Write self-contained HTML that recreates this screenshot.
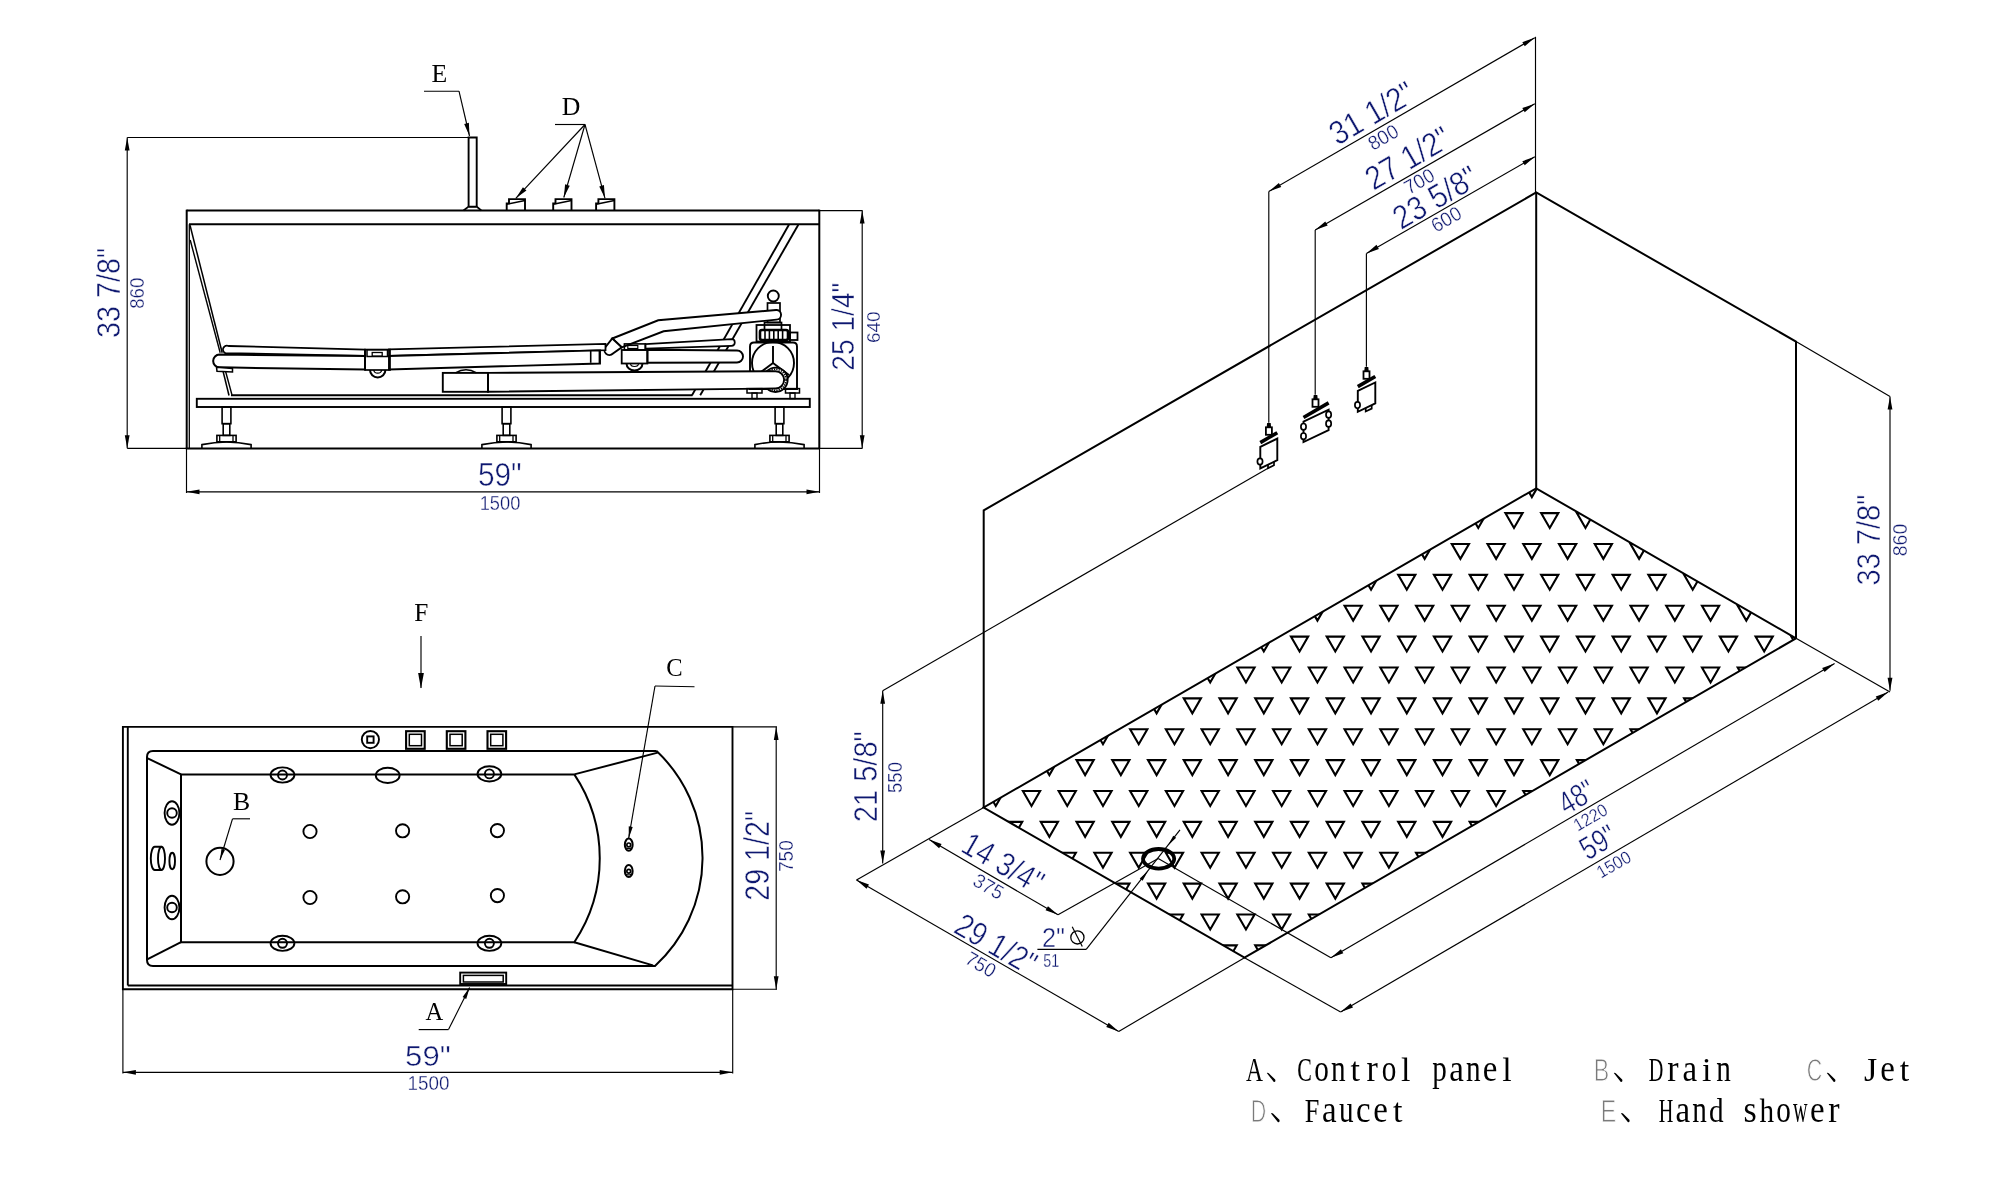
<!DOCTYPE html>
<html><head><meta charset="utf-8"><title>Bathtub drawing</title>
<style>html,body{margin:0;padding:0;background:#fff;}svg{display:block;will-change:transform;}</style>
</head><body>
<svg width="2000" height="1200" viewBox="0 0 2000 1200" stroke-linecap="butt">
<rect width="2000" height="1200" fill="#fff"/>
<line x1="127.20" y1="137.50" x2="469.50" y2="137.50" stroke="#000" stroke-width="1.15"/>
<line x1="127.20" y1="448.30" x2="186.50" y2="448.30" stroke="#000" stroke-width="1.15"/>
<line x1="127.20" y1="137.50" x2="127.20" y2="448.30" stroke="#000" stroke-width="1.15"/>
<path d="M127.20,137.50 L124.80,150.50 L129.60,150.50 Z" fill="#000"/>
<path d="M127.20,448.30 L129.60,435.30 L124.80,435.30 Z" fill="#000"/>
<text transform="translate(108.80,293.00) rotate(-90)" x="0" y="11.65" font-family="Liberation Sans" font-size="32.36" fill="#0e1870" text-anchor="middle" font-weight="normal" textLength="90.2" lengthAdjust="spacingAndGlyphs" stroke="#fff" stroke-width="0.52">33 7/8&quot;</text>
<text transform="translate(137.00,293.20) rotate(-90)" x="0" y="7.15" font-family="Liberation Sans" font-size="19.86" fill="#0e1870" text-anchor="middle" font-weight="normal" textLength="31.1" lengthAdjust="spacingAndGlyphs" stroke="#fff" stroke-width="0.32">860</text>
<path d="M468.6,206.8 L468.6,137.5 L476.7,137.5 L476.7,206.8" fill="none" stroke="#000" stroke-width="1.9" />
<path d="M463.5,210.5 L468.6,206.6 L476.7,206.6 L481.3,210.5" fill="none" stroke="#000" stroke-width="1.8" />
<line x1="468.60" y1="206.80" x2="476.70" y2="206.80" stroke="#000" stroke-width="1.6"/>
<text transform="translate(439.25,73.50) rotate(0)" x="0" y="8.50" font-family="Liberation Serif" font-size="25.76" fill="#000" text-anchor="middle" font-weight="normal">E</text>
<line x1="424.00" y1="91.20" x2="459.00" y2="91.20" stroke="#000" stroke-width="1.15"/>
<line x1="459.00" y1="91.20" x2="469.50" y2="136.00" stroke="#000" stroke-width="1.15"/>
<path d="M469.50,136.00 L468.87,122.80 L464.20,123.89 Z" fill="#000"/>
<path d="M506.7,210.5 L506.7,203.4 L509.0,203.4 L509.0,199.1 L525.0,199.1 L525.0,210.5" fill="none" stroke="#000" stroke-width="1.9" />
<line x1="506.70" y1="204.30" x2="525.00" y2="200.40" stroke="#000" stroke-width="1.5"/>
<path d="M553.2,210.5 L553.2,203.4 L555.5,203.4 L555.5,199.1 L571.5,199.1 L571.5,210.5" fill="none" stroke="#000" stroke-width="1.9" />
<line x1="553.20" y1="204.30" x2="571.50" y2="200.40" stroke="#000" stroke-width="1.5"/>
<path d="M596.1,210.5 L596.1,203.4 L598.4,203.4 L598.4,199.1 L614.4,199.1 L614.4,210.5" fill="none" stroke="#000" stroke-width="1.9" />
<line x1="596.10" y1="204.30" x2="614.40" y2="200.40" stroke="#000" stroke-width="1.5"/>
<text transform="translate(571.00,106.00) rotate(0)" x="0" y="8.50" font-family="Liberation Serif" font-size="25.76" fill="#000" text-anchor="middle" font-weight="normal">D</text>
<line x1="555.00" y1="124.50" x2="585.00" y2="124.50" stroke="#000" stroke-width="1.15"/>
<line x1="585.00" y1="124.50" x2="515.80" y2="198.30" stroke="#000" stroke-width="1.15"/>
<path d="M515.80,198.30 L526.44,190.46 L522.94,187.18 Z" fill="#000"/>
<line x1="585.00" y1="124.50" x2="563.80" y2="197.50" stroke="#000" stroke-width="1.15"/>
<path d="M563.80,197.50 L569.73,185.69 L565.12,184.35 Z" fill="#000"/>
<line x1="585.00" y1="124.50" x2="605.00" y2="198.30" stroke="#000" stroke-width="1.15"/>
<path d="M605.00,198.30 L603.92,185.12 L599.28,186.38 Z" fill="#000"/>
<line x1="186.50" y1="210.60" x2="819.50" y2="210.60" stroke="#000" stroke-width="2.0"/>
<line x1="189.00" y1="224.30" x2="819.50" y2="224.30" stroke="#000" stroke-width="2.0"/>
<line x1="186.70" y1="209.70" x2="186.70" y2="448.50" stroke="#000" stroke-width="2.0"/>
<line x1="189.30" y1="224.30" x2="189.30" y2="448.50" stroke="#000" stroke-width="1.3"/>
<line x1="819.30" y1="209.70" x2="819.30" y2="448.50" stroke="#000" stroke-width="2.0"/>
<line x1="185.80" y1="448.50" x2="820.00" y2="448.50" stroke="#000" stroke-width="2.0"/>
<line x1="190.00" y1="225.20" x2="222.20" y2="352.70" stroke="#000" stroke-width="1.5"/>
<line x1="190.20" y1="240.00" x2="220.20" y2="352.70" stroke="#000" stroke-width="1.4"/>
<line x1="222.20" y1="367.70" x2="229.00" y2="395.50" stroke="#000" stroke-width="1.5"/>
<line x1="224.60" y1="367.70" x2="232.00" y2="395.00" stroke="#000" stroke-width="1.4"/>
<line x1="788.90" y1="224.80" x2="692.00" y2="395.30" stroke="#000" stroke-width="1.9"/>
<line x1="798.30" y1="224.80" x2="700.20" y2="395.30" stroke="#000" stroke-width="1.9"/>
<line x1="231.00" y1="395.30" x2="692.50" y2="395.30" stroke="#000" stroke-width="1.9"/>
<rect x="196.80" y="398.80" width="613.00" height="8.20" rx="0" fill="none" stroke="#000" stroke-width="1.9"/>
<rect x="222.10" y="406.90" width="8.80" height="16.80" rx="0" fill="none" stroke="#000" stroke-width="1.6"/>
<rect x="223.20" y="423.70" width="6.60" height="11.70" rx="0" fill="none" stroke="#000" stroke-width="1.6"/>
<rect x="216.90" y="435.40" width="19.20" height="6.40" rx="0" fill="none" stroke="#000" stroke-width="1.6"/>
<line x1="219.70" y1="435.40" x2="219.70" y2="441.80" stroke="#000" stroke-width="1.3"/>
<line x1="233.00" y1="435.40" x2="233.00" y2="441.80" stroke="#000" stroke-width="1.3"/>
<path d="M201.9,448.2 L201.9,444.6 Q214.5,442 226.5,442 Q238.5,442 251.1,444.6 L251.1,448.2" fill="none" stroke="#000" stroke-width="1.6" />
<rect x="502.10" y="406.90" width="8.80" height="16.80" rx="0" fill="none" stroke="#000" stroke-width="1.6"/>
<rect x="503.20" y="423.70" width="6.60" height="11.70" rx="0" fill="none" stroke="#000" stroke-width="1.6"/>
<rect x="496.90" y="435.40" width="19.20" height="6.40" rx="0" fill="none" stroke="#000" stroke-width="1.6"/>
<line x1="499.70" y1="435.40" x2="499.70" y2="441.80" stroke="#000" stroke-width="1.3"/>
<line x1="513.00" y1="435.40" x2="513.00" y2="441.80" stroke="#000" stroke-width="1.3"/>
<path d="M481.9,448.2 L481.9,444.6 Q494.5,442 506.5,442 Q518.5,442 531.1,444.6 L531.1,448.2" fill="none" stroke="#000" stroke-width="1.6" />
<rect x="775.10" y="406.90" width="8.80" height="16.80" rx="0" fill="none" stroke="#000" stroke-width="1.6"/>
<rect x="776.20" y="423.70" width="6.60" height="11.70" rx="0" fill="none" stroke="#000" stroke-width="1.6"/>
<rect x="769.90" y="435.40" width="19.20" height="6.40" rx="0" fill="none" stroke="#000" stroke-width="1.6"/>
<line x1="772.70" y1="435.40" x2="772.70" y2="441.80" stroke="#000" stroke-width="1.3"/>
<line x1="786.00" y1="435.40" x2="786.00" y2="441.80" stroke="#000" stroke-width="1.3"/>
<path d="M754.9,448.2 L754.9,444.6 Q767.5,442 779.5,442 Q791.5,442 804.1,444.6 L804.1,448.2" fill="none" stroke="#000" stroke-width="1.6" />
<path d="M750,389 L750,346.5 Q750,342.5 754,342.5 L793,342.5 Q797,342.5 797,346.5 L797,389 Z" fill="#fff" stroke="#000" stroke-width="1.9" />
<circle cx="773.00" cy="363.00" r="21.00" fill="none" stroke="#000" stroke-width="1.9"/>
<line x1="773.00" y1="346.00" x2="773.00" y2="363.00" stroke="#000" stroke-width="1.9"/>
<line x1="773.00" y1="363.00" x2="757.00" y2="375.00" stroke="#000" stroke-width="1.9"/>
<line x1="773.00" y1="363.00" x2="789.00" y2="375.00" stroke="#000" stroke-width="1.9"/>
<circle cx="775.5" cy="379.8" r="12.2" fill="#fff" stroke="#000" stroke-width="1.8"/>
<circle cx="775.5" cy="379.8" r="10.6" fill="none" stroke="#000" stroke-width="1.6" stroke-dasharray="1.3 1.1"/>
<path d="M488,372.9 L775.5,371.2 A8.65,8.65 0 0 1 775.5,388.5 L488,391.8 Z" fill="#fff" stroke="#000" stroke-width="1.9" />
<path d="M455.5,372.9 Q466,366.5 476.5,372.9" fill="#fff" stroke="#000" stroke-width="1.6" />
<rect x="442.80" y="372.90" width="45.20" height="18.90" rx="0" fill="none" stroke="#000" stroke-width="1.9"/>
<rect x="747.00" y="388.60" width="15.00" height="4.40" rx="0" fill="none" stroke="#000" stroke-width="1.5"/>
<rect x="752.00" y="393.00" width="5.00" height="5.60" rx="0" fill="none" stroke="#000" stroke-width="1.4"/>
<rect x="785.50" y="388.60" width="14.00" height="4.40" rx="0" fill="none" stroke="#000" stroke-width="1.5"/>
<rect x="790.00" y="393.00" width="5.00" height="5.60" rx="0" fill="none" stroke="#000" stroke-width="1.4"/>
<rect x="756.50" y="325.00" width="33.50" height="16.50" rx="0" fill="none" stroke="#000" stroke-width="1.8"/>
<rect x="790.00" y="332.50" width="7.50" height="7.50" rx="0" fill="none" stroke="#000" stroke-width="1.8"/>
<rect x="760" y="330" width="28" height="10" fill="none" stroke="#000" stroke-width="2.6" rx="2"/>
<line x1="765.00" y1="331.00" x2="765.00" y2="339.00" stroke="#000" stroke-width="1.6"/>
<line x1="769.40" y1="331.00" x2="769.40" y2="339.00" stroke="#000" stroke-width="1.6"/>
<line x1="773.80" y1="331.00" x2="773.80" y2="339.00" stroke="#000" stroke-width="1.6"/>
<line x1="778.20" y1="331.00" x2="778.20" y2="339.00" stroke="#000" stroke-width="1.6"/>
<line x1="782.60" y1="331.00" x2="782.60" y2="339.00" stroke="#000" stroke-width="1.6"/>
<rect x="764.50" y="322.50" width="17.00" height="7.50" rx="0" fill="none" stroke="#000" stroke-width="1.7"/>
<rect x="767.50" y="303.00" width="12.50" height="19.50" rx="0" fill="none" stroke="#000" stroke-width="1.7"/>
<circle cx="773.30" cy="296.00" r="5.50" fill="none" stroke="#000" stroke-width="1.9"/>
<path d="M612.3,338.5 L658.2,320.3 L776,310 A4.8,4.8 0 0 1 776.5,319.6 L663.6,331.3 L621.7,347.3 Z" fill="#fff" stroke="#000" stroke-width="1.9" />
<path d="M612.3,338.5 L621.7,347.3 L613,353.5 A4.5,4.5 0 0 1 605.8,346.5 Z" fill="#fff" stroke="#000" stroke-width="1.9" />
<path d="M228.6,346 L365,349.6 L365,355.9 L225.3,353.1 A3.6,3.6 0 0 1 228.6,346 Z" fill="#fff" stroke="#000" stroke-width="1.8" />
<path d="M219.5,354.6 L365,356 L365,369.6 L233,367.6 L219.5,367.3 A6.35,6.35 0 0 1 219.5,354.6 Z" fill="#fff" stroke="#000" stroke-width="2.0" />
<path d="M389,349.4 L605.5,343.9 L605.5,350.2 L389,356 Z" fill="#fff" stroke="#000" stroke-width="1.8" />
<path d="M389,356 L590.7,350.6 L600,350.4 L600,363.5 L389,369.5 Z" fill="#fff" stroke="#000" stroke-width="1.9" />
<line x1="590.70" y1="350.60" x2="590.70" y2="362.80" stroke="#000" stroke-width="1.6"/>
<line x1="599.40" y1="350.40" x2="599.40" y2="363.30" stroke="#000" stroke-width="1.6"/>
<path d="M216.5,367.2 L232.5,368.4 L232.5,372 L217,371.2 Z" fill="#fff" stroke="#000" stroke-width="1.5" />
<rect x="365.00" y="349.60" width="25.00" height="20.40" rx="0" fill="none" stroke="#000" stroke-width="1.7"/>
<rect x="367.00" y="349.70" width="20.50" height="6.80" rx="0" fill="none" stroke="#000" stroke-width="1.5"/>
<rect x="372.20" y="352.50" width="10.00" height="3.60" rx="0" fill="none" stroke="#000" stroke-width="1.3"/>
<path d="M370,370 A7.7,7.4 0 0 0 385.4,370" fill="none" stroke="#000" stroke-width="2.0" />
<path d="M373.8,370 A3.9,3.2 0 0 0 381.6,370" fill="none" stroke="#000" stroke-width="1.3" />
<path d="M645.4,344.2 L731.5,339.2 A3.3,3.3 0 0 1 731.5,345.8 L645.4,348.6 Z" fill="#fff" stroke="#000" stroke-width="1.7" />
<path d="M647.4,349.8 L737,350.5 A6,6 0 0 1 737,362.5 L647.4,362.8 Z" fill="#fff" stroke="#000" stroke-width="1.9" />
<rect x="621.70" y="350.00" width="25.70" height="13.50" rx="0" fill="none" stroke="#000" stroke-width="1.8"/>
<rect x="624.40" y="343.90" width="21.00" height="6.10" rx="0" fill="none" stroke="#000" stroke-width="1.6"/>
<rect x="627.80" y="345.50" width="10.00" height="3.00" rx="0" fill="none" stroke="#000" stroke-width="1.2"/>
<path d="M626.5,363.5 A8,7 0 0 0 642.5,363.5" fill="none" stroke="#000" stroke-width="2.0" />
<path d="M630.5,363.5 A4,3 0 0 0 638.5,363.5" fill="none" stroke="#000" stroke-width="1.1" />
<line x1="820.00" y1="210.60" x2="862.50" y2="210.60" stroke="#000" stroke-width="1.15"/>
<line x1="820.00" y1="448.30" x2="862.50" y2="448.30" stroke="#000" stroke-width="1.15"/>
<line x1="862.20" y1="210.60" x2="862.20" y2="448.30" stroke="#000" stroke-width="1.15"/>
<path d="M862.20,210.60 L859.80,223.60 L864.60,223.60 Z" fill="#000"/>
<path d="M862.20,448.30 L864.60,435.30 L859.80,435.30 Z" fill="#000"/>
<text transform="translate(843.30,326.60) rotate(-90)" x="0" y="11.15" font-family="Liberation Sans" font-size="30.97" fill="#0e1870" text-anchor="middle" font-weight="normal" textLength="88.4" lengthAdjust="spacingAndGlyphs" stroke="#fff" stroke-width="0.50">25 1/4&quot;</text>
<text transform="translate(872.60,327.20) rotate(-90)" x="0" y="6.90" font-family="Liberation Sans" font-size="19.17" fill="#0e1870" text-anchor="middle" font-weight="normal" textLength="31.8" lengthAdjust="spacingAndGlyphs" stroke="#fff" stroke-width="0.31">640</text>
<line x1="186.50" y1="448.50" x2="186.50" y2="493.00" stroke="#000" stroke-width="1.15"/>
<line x1="819.50" y1="448.50" x2="819.50" y2="493.00" stroke="#000" stroke-width="1.15"/>
<line x1="186.50" y1="491.80" x2="819.50" y2="491.80" stroke="#000" stroke-width="1.15"/>
<path d="M186.50,491.80 L199.50,494.20 L199.50,489.40 Z" fill="#000"/>
<path d="M819.50,491.80 L806.50,489.40 L806.50,494.20 Z" fill="#000"/>
<text transform="translate(499.80,474.50) rotate(0)" x="0" y="11.90" font-family="Liberation Sans" font-size="33.06" fill="#0e1870" text-anchor="middle" font-weight="normal" textLength="43.8" lengthAdjust="spacingAndGlyphs" stroke="#fff" stroke-width="0.53">59&quot;</text>
<text transform="translate(500.00,502.80) rotate(0)" x="0" y="7.15" font-family="Liberation Sans" font-size="19.86" fill="#0e1870" text-anchor="middle" font-weight="normal" textLength="40.6" lengthAdjust="spacingAndGlyphs" stroke="#fff" stroke-width="0.32">1500</text>
<text transform="translate(421.35,612.95) rotate(0)" x="0" y="8.35" font-family="Liberation Serif" font-size="25.30" fill="#000" text-anchor="middle" font-weight="normal">F</text>
<line x1="421.00" y1="636.00" x2="421.00" y2="688.00" stroke="#000" stroke-width="1.15"/>
<path d="M421.00,688.50 L423.90,673.00 L418.10,673.00 Z" fill="#000"/>
<path d="M122.9,989.2 L122.9,726.9 L732.5,726.9 L732.5,989.2 Z" fill="none" stroke="#000" stroke-width="1.9" />
<line x1="127.80" y1="726.90" x2="127.80" y2="985.50" stroke="#000" stroke-width="1.9"/>
<line x1="127.80" y1="985.50" x2="732.50" y2="985.50" stroke="#000" stroke-width="1.9"/>
<path d="M656.6,751 L153,751 Q147,751 147,757 L147,960 Q147,966 153,966 L655,966 A147,147 0 0 0 656.6,751" fill="none" stroke="#000" stroke-width="2.0" />
<path d="M574.3,774.4 L181,774.4 L181,942.2 L574.3,942.2 A151,151 0 0 0 574.3,774.4" fill="none" stroke="#000" stroke-width="2.0" />
<line x1="147.20" y1="758.10" x2="181.00" y2="774.40" stroke="#000" stroke-width="2.0"/>
<line x1="147.20" y1="959.30" x2="181.00" y2="942.20" stroke="#000" stroke-width="2.0"/>
<line x1="574.30" y1="774.40" x2="657.70" y2="752.60" stroke="#000" stroke-width="2.0"/>
<line x1="574.30" y1="942.20" x2="653.00" y2="965.40" stroke="#000" stroke-width="2.0"/>
<circle cx="370.40" cy="739.60" r="8.60" fill="none" stroke="#000" stroke-width="1.9"/>
<rect x="367.20" y="736.40" width="6.40" height="6.40" rx="0" fill="none" stroke="#000" stroke-width="1.9"/>
<rect x="406.10" y="731.20" width="18.60" height="17.60" rx="0" fill="none" stroke="#000" stroke-width="2.1"/>
<rect x="409.30" y="734.30" width="12.20" height="11.40" rx="0" fill="none" stroke="#000" stroke-width="1.5"/>
<rect x="446.80" y="731.20" width="18.60" height="17.60" rx="0" fill="none" stroke="#000" stroke-width="2.1"/>
<rect x="450.00" y="734.30" width="12.20" height="11.40" rx="0" fill="none" stroke="#000" stroke-width="1.5"/>
<rect x="487.50" y="731.20" width="18.60" height="17.60" rx="0" fill="none" stroke="#000" stroke-width="2.1"/>
<rect x="490.70" y="734.30" width="12.20" height="11.40" rx="0" fill="none" stroke="#000" stroke-width="1.5"/>
<ellipse cx="282.50" cy="775.00" rx="11.90" ry="7.60" fill="none" stroke="#000" stroke-width="1.9"/>
<circle cx="282.50" cy="775.00" r="4.50" fill="none" stroke="#000" stroke-width="1.9"/>
<ellipse cx="489.40" cy="773.90" rx="11.90" ry="7.60" fill="none" stroke="#000" stroke-width="1.9"/>
<circle cx="489.40" cy="773.90" r="4.50" fill="none" stroke="#000" stroke-width="1.9"/>
<ellipse cx="282.50" cy="943.30" rx="11.90" ry="7.60" fill="none" stroke="#000" stroke-width="1.9"/>
<circle cx="282.50" cy="943.30" r="4.50" fill="none" stroke="#000" stroke-width="1.9"/>
<ellipse cx="489.40" cy="943.30" rx="11.90" ry="7.60" fill="none" stroke="#000" stroke-width="1.9"/>
<circle cx="489.40" cy="943.30" r="4.50" fill="none" stroke="#000" stroke-width="1.9"/>
<ellipse cx="387.70" cy="775.40" rx="11.90" ry="7.60" fill="none" stroke="#000" stroke-width="1.9"/>
<ellipse cx="172.00" cy="813.00" rx="7.40" ry="11.80" fill="none" stroke="#000" stroke-width="1.9"/>
<circle cx="172.00" cy="813.00" r="4.80" fill="none" stroke="#000" stroke-width="1.9"/>
<ellipse cx="172.00" cy="907.50" rx="7.40" ry="11.80" fill="none" stroke="#000" stroke-width="1.9"/>
<circle cx="172.00" cy="907.50" r="4.80" fill="none" stroke="#000" stroke-width="1.9"/>
<path d="M154.7,846.8 A3.9,11.6 0 0 0 154.7,870 L161.5,870 M154.7,846.8 L161.5,846.8" fill="none" stroke="#000" stroke-width="1.9" />
<ellipse cx="161.50" cy="858.40" rx="3.50" ry="11.60" fill="none" stroke="#000" stroke-width="1.9"/>
<ellipse cx="172.20" cy="861.00" rx="2.80" ry="8.20" fill="none" stroke="#000" stroke-width="1.9"/>
<circle cx="310.00" cy="831.50" r="6.60" fill="none" stroke="#000" stroke-width="1.9"/>
<circle cx="402.60" cy="830.80" r="6.60" fill="none" stroke="#000" stroke-width="1.9"/>
<circle cx="497.40" cy="830.60" r="6.60" fill="none" stroke="#000" stroke-width="1.9"/>
<circle cx="310.00" cy="897.50" r="6.60" fill="none" stroke="#000" stroke-width="1.9"/>
<circle cx="402.60" cy="896.80" r="6.60" fill="none" stroke="#000" stroke-width="1.9"/>
<circle cx="497.40" cy="895.60" r="6.60" fill="none" stroke="#000" stroke-width="1.9"/>
<circle cx="220.00" cy="861.30" r="13.60" fill="none" stroke="#000" stroke-width="2.0"/>
<text transform="translate(241.50,801.50) rotate(0)" x="0" y="8.50" font-family="Liberation Serif" font-size="25.76" fill="#000" text-anchor="middle" font-weight="normal">B</text>
<line x1="232.50" y1="818.80" x2="250.00" y2="818.80" stroke="#000" stroke-width="1.15"/>
<line x1="232.50" y1="818.80" x2="220.00" y2="860.00" stroke="#000" stroke-width="1.15"/>
<path d="M220.00,860.00 L224.92,850.00 L221.47,848.95 Z" fill="#000"/>
<ellipse cx="628.75" cy="844.70" rx="3.90" ry="6.10" fill="none" stroke="#000" stroke-width="2.0"/>
<circle cx="628.75" cy="844.90" r="1.90" fill="none" stroke="#000" stroke-width="1.7"/>
<path d="M626.2,847.9 Q628.75,849.3 631.3,847.9" fill="none" stroke="#000" stroke-width="1.2" />
<ellipse cx="628.75" cy="871.00" rx="3.90" ry="6.10" fill="none" stroke="#000" stroke-width="2.0"/>
<circle cx="628.75" cy="871.20" r="1.90" fill="none" stroke="#000" stroke-width="1.7"/>
<path d="M626.2,874.2 Q628.75,875.6 631.3,874.2" fill="none" stroke="#000" stroke-width="1.2" />
<text transform="translate(674.50,667.60) rotate(0)" x="0" y="8.10" font-family="Liberation Serif" font-size="24.55" fill="#000" text-anchor="middle" font-weight="normal">C</text>
<line x1="655.00" y1="686.00" x2="694.50" y2="686.80" stroke="#000" stroke-width="1.15"/>
<line x1="655.00" y1="686.00" x2="628.70" y2="838.00" stroke="#000" stroke-width="1.15"/>
<path d="M628.70,838.50 L632.71,827.01 L628.77,826.33 Z" fill="#000"/>
<rect x="460.20" y="972.60" width="46.00" height="11.40" rx="0" fill="none" stroke="#000" stroke-width="1.9"/>
<rect x="463.40" y="975.40" width="39.80" height="6.60" rx="0" fill="none" stroke="#000" stroke-width="1.5"/>
<text transform="translate(434.25,1011.90) rotate(0)" x="0" y="8.10" font-family="Liberation Serif" font-size="24.55" fill="#000" text-anchor="middle" font-weight="normal">A</text>
<line x1="418.70" y1="1029.60" x2="448.50" y2="1029.60" stroke="#000" stroke-width="1.15"/>
<line x1="448.50" y1="1029.60" x2="469.60" y2="987.50" stroke="#000" stroke-width="1.15"/>
<path d="M469.80,987.30 L462.62,997.12 L466.19,998.92 Z" fill="#000"/>
<line x1="732.50" y1="726.90" x2="777.00" y2="726.90" stroke="#000" stroke-width="1.15"/>
<line x1="732.50" y1="989.20" x2="777.00" y2="989.20" stroke="#000" stroke-width="1.15"/>
<line x1="776.20" y1="726.90" x2="776.20" y2="989.20" stroke="#000" stroke-width="1.15"/>
<path d="M776.20,726.90 L773.80,739.90 L778.60,739.90 Z" fill="#000"/>
<path d="M776.20,989.20 L778.60,976.20 L773.80,976.20 Z" fill="#000"/>
<text transform="translate(756.60,855.80) rotate(-90)" x="0" y="12.40" font-family="Liberation Sans" font-size="34.44" fill="#0e1870" text-anchor="middle" font-weight="normal" textLength="90.0" lengthAdjust="spacingAndGlyphs" stroke="#fff" stroke-width="0.55">29 1/2&quot;</text>
<text transform="translate(786.30,856.10) rotate(-90)" x="0" y="7.15" font-family="Liberation Sans" font-size="19.86" fill="#0e1870" text-anchor="middle" font-weight="normal" textLength="31.8" lengthAdjust="spacingAndGlyphs" stroke="#fff" stroke-width="0.32">750</text>
<line x1="122.90" y1="989.50" x2="122.90" y2="1073.50" stroke="#000" stroke-width="1.15"/>
<line x1="732.70" y1="989.50" x2="732.70" y2="1073.50" stroke="#000" stroke-width="1.15"/>
<line x1="122.90" y1="1072.30" x2="732.70" y2="1072.30" stroke="#000" stroke-width="1.15"/>
<path d="M122.90,1072.30 L135.90,1074.70 L135.90,1069.90 Z" fill="#000"/>
<path d="M732.70,1072.30 L719.70,1069.90 L719.70,1074.70 Z" fill="#000"/>
<text transform="translate(427.90,1055.50) rotate(0)" x="0" y="10.90" font-family="Liberation Sans" font-size="30.28" fill="#0e1870" text-anchor="middle" font-weight="normal" textLength="45.6" lengthAdjust="spacingAndGlyphs" stroke="#fff" stroke-width="0.48">59&quot;</text>
<text transform="translate(428.40,1082.80) rotate(0)" x="0" y="7.15" font-family="Liberation Sans" font-size="19.86" fill="#0e1870" text-anchor="middle" font-weight="normal" textLength="41.9" lengthAdjust="spacingAndGlyphs" stroke="#fff" stroke-width="0.32">1500</text>
<clipPath id="fl"><path d="M1536.2,488.3 L983.7,807.5 L1244.5,957.7 L1796.0,638.3 Z"/></clipPath>
<path clip-path="url(#fl)" fill="none" stroke="#000" stroke-width="2.1" d="M969.30,451.34h17.2l-8.6,14.9zM1005.04,451.34h17.2l-8.6,14.9zM1040.78,451.34h17.2l-8.6,14.9zM1076.52,451.34h17.2l-8.6,14.9zM1112.26,451.34h17.2l-8.6,14.9zM1148.00,451.34h17.2l-8.6,14.9zM1183.74,451.34h17.2l-8.6,14.9zM1219.48,451.34h17.2l-8.6,14.9zM1255.22,451.34h17.2l-8.6,14.9zM1290.96,451.34h17.2l-8.6,14.9zM1326.70,451.34h17.2l-8.6,14.9zM1362.44,451.34h17.2l-8.6,14.9zM1398.18,451.34h17.2l-8.6,14.9zM1433.92,451.34h17.2l-8.6,14.9zM1469.66,451.34h17.2l-8.6,14.9zM1505.40,451.34h17.2l-8.6,14.9zM1541.14,451.34h17.2l-8.6,14.9zM1576.88,451.34h17.2l-8.6,14.9zM1612.62,451.34h17.2l-8.6,14.9zM1648.36,451.34h17.2l-8.6,14.9zM1684.10,451.34h17.2l-8.6,14.9zM1719.84,451.34h17.2l-8.6,14.9zM1755.58,451.34h17.2l-8.6,14.9zM1791.32,451.34h17.2l-8.6,14.9zM951.43,482.22h17.2l-8.6,14.9zM987.17,482.22h17.2l-8.6,14.9zM1022.91,482.22h17.2l-8.6,14.9zM1058.65,482.22h17.2l-8.6,14.9zM1094.39,482.22h17.2l-8.6,14.9zM1130.13,482.22h17.2l-8.6,14.9zM1165.87,482.22h17.2l-8.6,14.9zM1201.61,482.22h17.2l-8.6,14.9zM1237.35,482.22h17.2l-8.6,14.9zM1273.09,482.22h17.2l-8.6,14.9zM1308.83,482.22h17.2l-8.6,14.9zM1344.57,482.22h17.2l-8.6,14.9zM1380.31,482.22h17.2l-8.6,14.9zM1416.05,482.22h17.2l-8.6,14.9zM1451.79,482.22h17.2l-8.6,14.9zM1487.53,482.22h17.2l-8.6,14.9zM1523.27,482.22h17.2l-8.6,14.9zM1559.01,482.22h17.2l-8.6,14.9zM1594.75,482.22h17.2l-8.6,14.9zM1630.49,482.22h17.2l-8.6,14.9zM1666.23,482.22h17.2l-8.6,14.9zM1701.97,482.22h17.2l-8.6,14.9zM1737.71,482.22h17.2l-8.6,14.9zM1773.45,482.22h17.2l-8.6,14.9zM1809.19,482.22h17.2l-8.6,14.9zM969.30,513.10h17.2l-8.6,14.9zM1005.04,513.10h17.2l-8.6,14.9zM1040.78,513.10h17.2l-8.6,14.9zM1076.52,513.10h17.2l-8.6,14.9zM1112.26,513.10h17.2l-8.6,14.9zM1148.00,513.10h17.2l-8.6,14.9zM1183.74,513.10h17.2l-8.6,14.9zM1219.48,513.10h17.2l-8.6,14.9zM1255.22,513.10h17.2l-8.6,14.9zM1290.96,513.10h17.2l-8.6,14.9zM1326.70,513.10h17.2l-8.6,14.9zM1362.44,513.10h17.2l-8.6,14.9zM1398.18,513.10h17.2l-8.6,14.9zM1433.92,513.10h17.2l-8.6,14.9zM1469.66,513.10h17.2l-8.6,14.9zM1505.40,513.10h17.2l-8.6,14.9zM1541.14,513.10h17.2l-8.6,14.9zM1576.88,513.10h17.2l-8.6,14.9zM1612.62,513.10h17.2l-8.6,14.9zM1648.36,513.10h17.2l-8.6,14.9zM1684.10,513.10h17.2l-8.6,14.9zM1719.84,513.10h17.2l-8.6,14.9zM1755.58,513.10h17.2l-8.6,14.9zM1791.32,513.10h17.2l-8.6,14.9zM951.43,543.98h17.2l-8.6,14.9zM987.17,543.98h17.2l-8.6,14.9zM1022.91,543.98h17.2l-8.6,14.9zM1058.65,543.98h17.2l-8.6,14.9zM1094.39,543.98h17.2l-8.6,14.9zM1130.13,543.98h17.2l-8.6,14.9zM1165.87,543.98h17.2l-8.6,14.9zM1201.61,543.98h17.2l-8.6,14.9zM1237.35,543.98h17.2l-8.6,14.9zM1273.09,543.98h17.2l-8.6,14.9zM1308.83,543.98h17.2l-8.6,14.9zM1344.57,543.98h17.2l-8.6,14.9zM1380.31,543.98h17.2l-8.6,14.9zM1416.05,543.98h17.2l-8.6,14.9zM1451.79,543.98h17.2l-8.6,14.9zM1487.53,543.98h17.2l-8.6,14.9zM1523.27,543.98h17.2l-8.6,14.9zM1559.01,543.98h17.2l-8.6,14.9zM1594.75,543.98h17.2l-8.6,14.9zM1630.49,543.98h17.2l-8.6,14.9zM1666.23,543.98h17.2l-8.6,14.9zM1701.97,543.98h17.2l-8.6,14.9zM1737.71,543.98h17.2l-8.6,14.9zM1773.45,543.98h17.2l-8.6,14.9zM1809.19,543.98h17.2l-8.6,14.9zM969.30,574.86h17.2l-8.6,14.9zM1005.04,574.86h17.2l-8.6,14.9zM1040.78,574.86h17.2l-8.6,14.9zM1076.52,574.86h17.2l-8.6,14.9zM1112.26,574.86h17.2l-8.6,14.9zM1148.00,574.86h17.2l-8.6,14.9zM1183.74,574.86h17.2l-8.6,14.9zM1219.48,574.86h17.2l-8.6,14.9zM1255.22,574.86h17.2l-8.6,14.9zM1290.96,574.86h17.2l-8.6,14.9zM1326.70,574.86h17.2l-8.6,14.9zM1362.44,574.86h17.2l-8.6,14.9zM1398.18,574.86h17.2l-8.6,14.9zM1433.92,574.86h17.2l-8.6,14.9zM1469.66,574.86h17.2l-8.6,14.9zM1505.40,574.86h17.2l-8.6,14.9zM1541.14,574.86h17.2l-8.6,14.9zM1576.88,574.86h17.2l-8.6,14.9zM1612.62,574.86h17.2l-8.6,14.9zM1648.36,574.86h17.2l-8.6,14.9zM1684.10,574.86h17.2l-8.6,14.9zM1719.84,574.86h17.2l-8.6,14.9zM1755.58,574.86h17.2l-8.6,14.9zM1791.32,574.86h17.2l-8.6,14.9zM951.43,605.74h17.2l-8.6,14.9zM987.17,605.74h17.2l-8.6,14.9zM1022.91,605.74h17.2l-8.6,14.9zM1058.65,605.74h17.2l-8.6,14.9zM1094.39,605.74h17.2l-8.6,14.9zM1130.13,605.74h17.2l-8.6,14.9zM1165.87,605.74h17.2l-8.6,14.9zM1201.61,605.74h17.2l-8.6,14.9zM1237.35,605.74h17.2l-8.6,14.9zM1273.09,605.74h17.2l-8.6,14.9zM1308.83,605.74h17.2l-8.6,14.9zM1344.57,605.74h17.2l-8.6,14.9zM1380.31,605.74h17.2l-8.6,14.9zM1416.05,605.74h17.2l-8.6,14.9zM1451.79,605.74h17.2l-8.6,14.9zM1487.53,605.74h17.2l-8.6,14.9zM1523.27,605.74h17.2l-8.6,14.9zM1559.01,605.74h17.2l-8.6,14.9zM1594.75,605.74h17.2l-8.6,14.9zM1630.49,605.74h17.2l-8.6,14.9zM1666.23,605.74h17.2l-8.6,14.9zM1701.97,605.74h17.2l-8.6,14.9zM1737.71,605.74h17.2l-8.6,14.9zM1773.45,605.74h17.2l-8.6,14.9zM1809.19,605.74h17.2l-8.6,14.9zM969.30,636.62h17.2l-8.6,14.9zM1005.04,636.62h17.2l-8.6,14.9zM1040.78,636.62h17.2l-8.6,14.9zM1076.52,636.62h17.2l-8.6,14.9zM1112.26,636.62h17.2l-8.6,14.9zM1148.00,636.62h17.2l-8.6,14.9zM1183.74,636.62h17.2l-8.6,14.9zM1219.48,636.62h17.2l-8.6,14.9zM1255.22,636.62h17.2l-8.6,14.9zM1290.96,636.62h17.2l-8.6,14.9zM1326.70,636.62h17.2l-8.6,14.9zM1362.44,636.62h17.2l-8.6,14.9zM1398.18,636.62h17.2l-8.6,14.9zM1433.92,636.62h17.2l-8.6,14.9zM1469.66,636.62h17.2l-8.6,14.9zM1505.40,636.62h17.2l-8.6,14.9zM1541.14,636.62h17.2l-8.6,14.9zM1576.88,636.62h17.2l-8.6,14.9zM1612.62,636.62h17.2l-8.6,14.9zM1648.36,636.62h17.2l-8.6,14.9zM1684.10,636.62h17.2l-8.6,14.9zM1719.84,636.62h17.2l-8.6,14.9zM1755.58,636.62h17.2l-8.6,14.9zM1791.32,636.62h17.2l-8.6,14.9zM951.43,667.50h17.2l-8.6,14.9zM987.17,667.50h17.2l-8.6,14.9zM1022.91,667.50h17.2l-8.6,14.9zM1058.65,667.50h17.2l-8.6,14.9zM1094.39,667.50h17.2l-8.6,14.9zM1130.13,667.50h17.2l-8.6,14.9zM1165.87,667.50h17.2l-8.6,14.9zM1201.61,667.50h17.2l-8.6,14.9zM1237.35,667.50h17.2l-8.6,14.9zM1273.09,667.50h17.2l-8.6,14.9zM1308.83,667.50h17.2l-8.6,14.9zM1344.57,667.50h17.2l-8.6,14.9zM1380.31,667.50h17.2l-8.6,14.9zM1416.05,667.50h17.2l-8.6,14.9zM1451.79,667.50h17.2l-8.6,14.9zM1487.53,667.50h17.2l-8.6,14.9zM1523.27,667.50h17.2l-8.6,14.9zM1559.01,667.50h17.2l-8.6,14.9zM1594.75,667.50h17.2l-8.6,14.9zM1630.49,667.50h17.2l-8.6,14.9zM1666.23,667.50h17.2l-8.6,14.9zM1701.97,667.50h17.2l-8.6,14.9zM1737.71,667.50h17.2l-8.6,14.9zM1773.45,667.50h17.2l-8.6,14.9zM1809.19,667.50h17.2l-8.6,14.9zM969.30,698.38h17.2l-8.6,14.9zM1005.04,698.38h17.2l-8.6,14.9zM1040.78,698.38h17.2l-8.6,14.9zM1076.52,698.38h17.2l-8.6,14.9zM1112.26,698.38h17.2l-8.6,14.9zM1148.00,698.38h17.2l-8.6,14.9zM1183.74,698.38h17.2l-8.6,14.9zM1219.48,698.38h17.2l-8.6,14.9zM1255.22,698.38h17.2l-8.6,14.9zM1290.96,698.38h17.2l-8.6,14.9zM1326.70,698.38h17.2l-8.6,14.9zM1362.44,698.38h17.2l-8.6,14.9zM1398.18,698.38h17.2l-8.6,14.9zM1433.92,698.38h17.2l-8.6,14.9zM1469.66,698.38h17.2l-8.6,14.9zM1505.40,698.38h17.2l-8.6,14.9zM1541.14,698.38h17.2l-8.6,14.9zM1576.88,698.38h17.2l-8.6,14.9zM1612.62,698.38h17.2l-8.6,14.9zM1648.36,698.38h17.2l-8.6,14.9zM1684.10,698.38h17.2l-8.6,14.9zM1719.84,698.38h17.2l-8.6,14.9zM1755.58,698.38h17.2l-8.6,14.9zM1791.32,698.38h17.2l-8.6,14.9zM951.43,729.26h17.2l-8.6,14.9zM987.17,729.26h17.2l-8.6,14.9zM1022.91,729.26h17.2l-8.6,14.9zM1058.65,729.26h17.2l-8.6,14.9zM1094.39,729.26h17.2l-8.6,14.9zM1130.13,729.26h17.2l-8.6,14.9zM1165.87,729.26h17.2l-8.6,14.9zM1201.61,729.26h17.2l-8.6,14.9zM1237.35,729.26h17.2l-8.6,14.9zM1273.09,729.26h17.2l-8.6,14.9zM1308.83,729.26h17.2l-8.6,14.9zM1344.57,729.26h17.2l-8.6,14.9zM1380.31,729.26h17.2l-8.6,14.9zM1416.05,729.26h17.2l-8.6,14.9zM1451.79,729.26h17.2l-8.6,14.9zM1487.53,729.26h17.2l-8.6,14.9zM1523.27,729.26h17.2l-8.6,14.9zM1559.01,729.26h17.2l-8.6,14.9zM1594.75,729.26h17.2l-8.6,14.9zM1630.49,729.26h17.2l-8.6,14.9zM1666.23,729.26h17.2l-8.6,14.9zM1701.97,729.26h17.2l-8.6,14.9zM1737.71,729.26h17.2l-8.6,14.9zM1773.45,729.26h17.2l-8.6,14.9zM1809.19,729.26h17.2l-8.6,14.9zM969.30,760.14h17.2l-8.6,14.9zM1005.04,760.14h17.2l-8.6,14.9zM1040.78,760.14h17.2l-8.6,14.9zM1076.52,760.14h17.2l-8.6,14.9zM1112.26,760.14h17.2l-8.6,14.9zM1148.00,760.14h17.2l-8.6,14.9zM1183.74,760.14h17.2l-8.6,14.9zM1219.48,760.14h17.2l-8.6,14.9zM1255.22,760.14h17.2l-8.6,14.9zM1290.96,760.14h17.2l-8.6,14.9zM1326.70,760.14h17.2l-8.6,14.9zM1362.44,760.14h17.2l-8.6,14.9zM1398.18,760.14h17.2l-8.6,14.9zM1433.92,760.14h17.2l-8.6,14.9zM1469.66,760.14h17.2l-8.6,14.9zM1505.40,760.14h17.2l-8.6,14.9zM1541.14,760.14h17.2l-8.6,14.9zM1576.88,760.14h17.2l-8.6,14.9zM1612.62,760.14h17.2l-8.6,14.9zM1648.36,760.14h17.2l-8.6,14.9zM1684.10,760.14h17.2l-8.6,14.9zM1719.84,760.14h17.2l-8.6,14.9zM1755.58,760.14h17.2l-8.6,14.9zM1791.32,760.14h17.2l-8.6,14.9zM951.43,791.02h17.2l-8.6,14.9zM987.17,791.02h17.2l-8.6,14.9zM1022.91,791.02h17.2l-8.6,14.9zM1058.65,791.02h17.2l-8.6,14.9zM1094.39,791.02h17.2l-8.6,14.9zM1130.13,791.02h17.2l-8.6,14.9zM1165.87,791.02h17.2l-8.6,14.9zM1201.61,791.02h17.2l-8.6,14.9zM1237.35,791.02h17.2l-8.6,14.9zM1273.09,791.02h17.2l-8.6,14.9zM1308.83,791.02h17.2l-8.6,14.9zM1344.57,791.02h17.2l-8.6,14.9zM1380.31,791.02h17.2l-8.6,14.9zM1416.05,791.02h17.2l-8.6,14.9zM1451.79,791.02h17.2l-8.6,14.9zM1487.53,791.02h17.2l-8.6,14.9zM1523.27,791.02h17.2l-8.6,14.9zM1559.01,791.02h17.2l-8.6,14.9zM1594.75,791.02h17.2l-8.6,14.9zM1630.49,791.02h17.2l-8.6,14.9zM1666.23,791.02h17.2l-8.6,14.9zM1701.97,791.02h17.2l-8.6,14.9zM1737.71,791.02h17.2l-8.6,14.9zM1773.45,791.02h17.2l-8.6,14.9zM1809.19,791.02h17.2l-8.6,14.9zM969.30,821.90h17.2l-8.6,14.9zM1005.04,821.90h17.2l-8.6,14.9zM1040.78,821.90h17.2l-8.6,14.9zM1076.52,821.90h17.2l-8.6,14.9zM1112.26,821.90h17.2l-8.6,14.9zM1148.00,821.90h17.2l-8.6,14.9zM1183.74,821.90h17.2l-8.6,14.9zM1219.48,821.90h17.2l-8.6,14.9zM1255.22,821.90h17.2l-8.6,14.9zM1290.96,821.90h17.2l-8.6,14.9zM1326.70,821.90h17.2l-8.6,14.9zM1362.44,821.90h17.2l-8.6,14.9zM1398.18,821.90h17.2l-8.6,14.9zM1433.92,821.90h17.2l-8.6,14.9zM1469.66,821.90h17.2l-8.6,14.9zM1505.40,821.90h17.2l-8.6,14.9zM1541.14,821.90h17.2l-8.6,14.9zM1576.88,821.90h17.2l-8.6,14.9zM1612.62,821.90h17.2l-8.6,14.9zM1648.36,821.90h17.2l-8.6,14.9zM1684.10,821.90h17.2l-8.6,14.9zM1719.84,821.90h17.2l-8.6,14.9zM1755.58,821.90h17.2l-8.6,14.9zM1791.32,821.90h17.2l-8.6,14.9zM951.43,852.78h17.2l-8.6,14.9zM987.17,852.78h17.2l-8.6,14.9zM1022.91,852.78h17.2l-8.6,14.9zM1058.65,852.78h17.2l-8.6,14.9zM1094.39,852.78h17.2l-8.6,14.9zM1130.13,852.78h17.2l-8.6,14.9zM1165.87,852.78h17.2l-8.6,14.9zM1201.61,852.78h17.2l-8.6,14.9zM1237.35,852.78h17.2l-8.6,14.9zM1273.09,852.78h17.2l-8.6,14.9zM1308.83,852.78h17.2l-8.6,14.9zM1344.57,852.78h17.2l-8.6,14.9zM1380.31,852.78h17.2l-8.6,14.9zM1416.05,852.78h17.2l-8.6,14.9zM1451.79,852.78h17.2l-8.6,14.9zM1487.53,852.78h17.2l-8.6,14.9zM1523.27,852.78h17.2l-8.6,14.9zM1559.01,852.78h17.2l-8.6,14.9zM1594.75,852.78h17.2l-8.6,14.9zM1630.49,852.78h17.2l-8.6,14.9zM1666.23,852.78h17.2l-8.6,14.9zM1701.97,852.78h17.2l-8.6,14.9zM1737.71,852.78h17.2l-8.6,14.9zM1773.45,852.78h17.2l-8.6,14.9zM1809.19,852.78h17.2l-8.6,14.9zM969.30,883.66h17.2l-8.6,14.9zM1005.04,883.66h17.2l-8.6,14.9zM1040.78,883.66h17.2l-8.6,14.9zM1076.52,883.66h17.2l-8.6,14.9zM1112.26,883.66h17.2l-8.6,14.9zM1148.00,883.66h17.2l-8.6,14.9zM1183.74,883.66h17.2l-8.6,14.9zM1219.48,883.66h17.2l-8.6,14.9zM1255.22,883.66h17.2l-8.6,14.9zM1290.96,883.66h17.2l-8.6,14.9zM1326.70,883.66h17.2l-8.6,14.9zM1362.44,883.66h17.2l-8.6,14.9zM1398.18,883.66h17.2l-8.6,14.9zM1433.92,883.66h17.2l-8.6,14.9zM1469.66,883.66h17.2l-8.6,14.9zM1505.40,883.66h17.2l-8.6,14.9zM1541.14,883.66h17.2l-8.6,14.9zM1576.88,883.66h17.2l-8.6,14.9zM1612.62,883.66h17.2l-8.6,14.9zM1648.36,883.66h17.2l-8.6,14.9zM1684.10,883.66h17.2l-8.6,14.9zM1719.84,883.66h17.2l-8.6,14.9zM1755.58,883.66h17.2l-8.6,14.9zM1791.32,883.66h17.2l-8.6,14.9zM951.43,914.54h17.2l-8.6,14.9zM987.17,914.54h17.2l-8.6,14.9zM1022.91,914.54h17.2l-8.6,14.9zM1058.65,914.54h17.2l-8.6,14.9zM1094.39,914.54h17.2l-8.6,14.9zM1130.13,914.54h17.2l-8.6,14.9zM1165.87,914.54h17.2l-8.6,14.9zM1201.61,914.54h17.2l-8.6,14.9zM1237.35,914.54h17.2l-8.6,14.9zM1273.09,914.54h17.2l-8.6,14.9zM1308.83,914.54h17.2l-8.6,14.9zM1344.57,914.54h17.2l-8.6,14.9zM1380.31,914.54h17.2l-8.6,14.9zM1416.05,914.54h17.2l-8.6,14.9zM1451.79,914.54h17.2l-8.6,14.9zM1487.53,914.54h17.2l-8.6,14.9zM1523.27,914.54h17.2l-8.6,14.9zM1559.01,914.54h17.2l-8.6,14.9zM1594.75,914.54h17.2l-8.6,14.9zM1630.49,914.54h17.2l-8.6,14.9zM1666.23,914.54h17.2l-8.6,14.9zM1701.97,914.54h17.2l-8.6,14.9zM1737.71,914.54h17.2l-8.6,14.9zM1773.45,914.54h17.2l-8.6,14.9zM1809.19,914.54h17.2l-8.6,14.9zM969.30,945.42h17.2l-8.6,14.9zM1005.04,945.42h17.2l-8.6,14.9zM1040.78,945.42h17.2l-8.6,14.9zM1076.52,945.42h17.2l-8.6,14.9zM1112.26,945.42h17.2l-8.6,14.9zM1148.00,945.42h17.2l-8.6,14.9zM1183.74,945.42h17.2l-8.6,14.9zM1219.48,945.42h17.2l-8.6,14.9zM1255.22,945.42h17.2l-8.6,14.9zM1290.96,945.42h17.2l-8.6,14.9zM1326.70,945.42h17.2l-8.6,14.9zM1362.44,945.42h17.2l-8.6,14.9zM1398.18,945.42h17.2l-8.6,14.9zM1433.92,945.42h17.2l-8.6,14.9zM1469.66,945.42h17.2l-8.6,14.9zM1505.40,945.42h17.2l-8.6,14.9zM1541.14,945.42h17.2l-8.6,14.9zM1576.88,945.42h17.2l-8.6,14.9zM1612.62,945.42h17.2l-8.6,14.9zM1648.36,945.42h17.2l-8.6,14.9zM1684.10,945.42h17.2l-8.6,14.9zM1719.84,945.42h17.2l-8.6,14.9zM1755.58,945.42h17.2l-8.6,14.9zM1791.32,945.42h17.2l-8.6,14.9zM951.43,976.30h17.2l-8.6,14.9zM987.17,976.30h17.2l-8.6,14.9zM1022.91,976.30h17.2l-8.6,14.9zM1058.65,976.30h17.2l-8.6,14.9zM1094.39,976.30h17.2l-8.6,14.9zM1130.13,976.30h17.2l-8.6,14.9zM1165.87,976.30h17.2l-8.6,14.9zM1201.61,976.30h17.2l-8.6,14.9zM1237.35,976.30h17.2l-8.6,14.9zM1273.09,976.30h17.2l-8.6,14.9zM1308.83,976.30h17.2l-8.6,14.9zM1344.57,976.30h17.2l-8.6,14.9zM1380.31,976.30h17.2l-8.6,14.9zM1416.05,976.30h17.2l-8.6,14.9zM1451.79,976.30h17.2l-8.6,14.9zM1487.53,976.30h17.2l-8.6,14.9zM1523.27,976.30h17.2l-8.6,14.9zM1559.01,976.30h17.2l-8.6,14.9zM1594.75,976.30h17.2l-8.6,14.9zM1630.49,976.30h17.2l-8.6,14.9zM1666.23,976.30h17.2l-8.6,14.9zM1701.97,976.30h17.2l-8.6,14.9zM1737.71,976.30h17.2l-8.6,14.9zM1773.45,976.30h17.2l-8.6,14.9zM1809.19,976.30h17.2l-8.6,14.9zM969.30,1007.18h17.2l-8.6,14.9zM1005.04,1007.18h17.2l-8.6,14.9zM1040.78,1007.18h17.2l-8.6,14.9zM1076.52,1007.18h17.2l-8.6,14.9zM1112.26,1007.18h17.2l-8.6,14.9zM1148.00,1007.18h17.2l-8.6,14.9zM1183.74,1007.18h17.2l-8.6,14.9zM1219.48,1007.18h17.2l-8.6,14.9zM1255.22,1007.18h17.2l-8.6,14.9zM1290.96,1007.18h17.2l-8.6,14.9zM1326.70,1007.18h17.2l-8.6,14.9zM1362.44,1007.18h17.2l-8.6,14.9zM1398.18,1007.18h17.2l-8.6,14.9zM1433.92,1007.18h17.2l-8.6,14.9zM1469.66,1007.18h17.2l-8.6,14.9zM1505.40,1007.18h17.2l-8.6,14.9zM1541.14,1007.18h17.2l-8.6,14.9zM1576.88,1007.18h17.2l-8.6,14.9zM1612.62,1007.18h17.2l-8.6,14.9zM1648.36,1007.18h17.2l-8.6,14.9zM1684.10,1007.18h17.2l-8.6,14.9zM1719.84,1007.18h17.2l-8.6,14.9zM1755.58,1007.18h17.2l-8.6,14.9zM1791.32,1007.18h17.2l-8.6,14.9zM951.43,1038.06h17.2l-8.6,14.9zM987.17,1038.06h17.2l-8.6,14.9zM1022.91,1038.06h17.2l-8.6,14.9zM1058.65,1038.06h17.2l-8.6,14.9zM1094.39,1038.06h17.2l-8.6,14.9zM1130.13,1038.06h17.2l-8.6,14.9zM1165.87,1038.06h17.2l-8.6,14.9zM1201.61,1038.06h17.2l-8.6,14.9zM1237.35,1038.06h17.2l-8.6,14.9zM1273.09,1038.06h17.2l-8.6,14.9zM1308.83,1038.06h17.2l-8.6,14.9zM1344.57,1038.06h17.2l-8.6,14.9zM1380.31,1038.06h17.2l-8.6,14.9zM1416.05,1038.06h17.2l-8.6,14.9zM1451.79,1038.06h17.2l-8.6,14.9zM1487.53,1038.06h17.2l-8.6,14.9zM1523.27,1038.06h17.2l-8.6,14.9zM1559.01,1038.06h17.2l-8.6,14.9zM1594.75,1038.06h17.2l-8.6,14.9zM1630.49,1038.06h17.2l-8.6,14.9zM1666.23,1038.06h17.2l-8.6,14.9zM1701.97,1038.06h17.2l-8.6,14.9zM1737.71,1038.06h17.2l-8.6,14.9zM1773.45,1038.06h17.2l-8.6,14.9zM1809.19,1038.06h17.2l-8.6,14.9zM969.30,1068.94h17.2l-8.6,14.9zM1005.04,1068.94h17.2l-8.6,14.9zM1040.78,1068.94h17.2l-8.6,14.9zM1076.52,1068.94h17.2l-8.6,14.9zM1112.26,1068.94h17.2l-8.6,14.9zM1148.00,1068.94h17.2l-8.6,14.9zM1183.74,1068.94h17.2l-8.6,14.9zM1219.48,1068.94h17.2l-8.6,14.9zM1255.22,1068.94h17.2l-8.6,14.9zM1290.96,1068.94h17.2l-8.6,14.9zM1326.70,1068.94h17.2l-8.6,14.9zM1362.44,1068.94h17.2l-8.6,14.9zM1398.18,1068.94h17.2l-8.6,14.9zM1433.92,1068.94h17.2l-8.6,14.9zM1469.66,1068.94h17.2l-8.6,14.9zM1505.40,1068.94h17.2l-8.6,14.9zM1541.14,1068.94h17.2l-8.6,14.9zM1576.88,1068.94h17.2l-8.6,14.9zM1612.62,1068.94h17.2l-8.6,14.9zM1648.36,1068.94h17.2l-8.6,14.9zM1684.10,1068.94h17.2l-8.6,14.9zM1719.84,1068.94h17.2l-8.6,14.9zM1755.58,1068.94h17.2l-8.6,14.9zM1791.32,1068.94h17.2l-8.6,14.9zM951.43,1099.82h17.2l-8.6,14.9zM987.17,1099.82h17.2l-8.6,14.9zM1022.91,1099.82h17.2l-8.6,14.9zM1058.65,1099.82h17.2l-8.6,14.9zM1094.39,1099.82h17.2l-8.6,14.9zM1130.13,1099.82h17.2l-8.6,14.9zM1165.87,1099.82h17.2l-8.6,14.9zM1201.61,1099.82h17.2l-8.6,14.9zM1237.35,1099.82h17.2l-8.6,14.9zM1273.09,1099.82h17.2l-8.6,14.9zM1308.83,1099.82h17.2l-8.6,14.9zM1344.57,1099.82h17.2l-8.6,14.9zM1380.31,1099.82h17.2l-8.6,14.9zM1416.05,1099.82h17.2l-8.6,14.9zM1451.79,1099.82h17.2l-8.6,14.9zM1487.53,1099.82h17.2l-8.6,14.9zM1523.27,1099.82h17.2l-8.6,14.9zM1559.01,1099.82h17.2l-8.6,14.9zM1594.75,1099.82h17.2l-8.6,14.9zM1630.49,1099.82h17.2l-8.6,14.9zM1666.23,1099.82h17.2l-8.6,14.9zM1701.97,1099.82h17.2l-8.6,14.9zM1737.71,1099.82h17.2l-8.6,14.9zM1773.45,1099.82h17.2l-8.6,14.9zM1809.19,1099.82h17.2l-8.6,14.9z"/>
<path d="M983.7,807.5 L983.7,510.4 L1536.2,192.5 L1796.0,341.6 L1796.0,638.3" fill="none" stroke="#000" stroke-width="2.0" />
<line x1="1536.20" y1="192.50" x2="1536.20" y2="488.30" stroke="#000" stroke-width="2.0"/>
<path d="M1796.0,638.3 L1536.2,488.3 L983.7,807.5 L1244.5,957.7 L1796.0,638.3" fill="none" stroke="#000" stroke-width="2.0" />
<ellipse cx="1158.60" cy="858.80" rx="15.60" ry="9.80" fill="none" stroke="#000" stroke-width="3.8"/>
<line x1="1535.50" y1="36.80" x2="1535.50" y2="192.50" stroke="#000" stroke-width="1.15"/>
<line x1="1268.80" y1="191.50" x2="1268.80" y2="422.80" stroke="#000" stroke-width="1.15"/>
<line x1="1315.20" y1="230.00" x2="1315.20" y2="394.80" stroke="#000" stroke-width="1.15"/>
<line x1="1366.40" y1="253.40" x2="1366.40" y2="366.80" stroke="#000" stroke-width="1.15"/>
<line x1="1268.80" y1="191.50" x2="1534.80" y2="37.70" stroke="#000" stroke-width="1.15"/>
<path d="M1268.80,191.50 L1281.26,187.07 L1278.85,182.92 Z" fill="#000"/>
<path d="M1534.80,37.70 L1522.34,42.13 L1524.75,46.28 Z" fill="#000"/>
<line x1="1315.20" y1="230.00" x2="1534.80" y2="103.70" stroke="#000" stroke-width="1.15"/>
<path d="M1315.20,230.00 L1327.67,225.60 L1325.27,221.44 Z" fill="#000"/>
<path d="M1534.80,103.70 L1522.33,108.10 L1524.73,112.26 Z" fill="#000"/>
<line x1="1366.40" y1="253.40" x2="1534.80" y2="156.80" stroke="#000" stroke-width="1.15"/>
<path d="M1366.40,253.40 L1378.87,249.01 L1376.48,244.85 Z" fill="#000"/>
<path d="M1534.80,156.80 L1522.33,161.19 L1524.72,165.35 Z" fill="#000"/>
<text transform="translate(1371.50,112.60) rotate(-30)" x="0" y="11.90" font-family="Liberation Sans" font-size="33.06" fill="#0e1870" text-anchor="middle" font-weight="normal" textLength="92.3" lengthAdjust="spacingAndGlyphs" stroke="#fff" stroke-width="0.53">31 1/2&quot;</text>
<text transform="translate(1383.00,137.00) rotate(-30)" x="0" y="7.15" font-family="Liberation Sans" font-size="19.86" fill="#0e1870" text-anchor="middle" font-weight="normal" textLength="31.6" lengthAdjust="spacingAndGlyphs" stroke="#fff" stroke-width="0.32">800</text>
<text transform="translate(1407.50,157.60) rotate(-30)" x="0" y="11.90" font-family="Liberation Sans" font-size="33.06" fill="#0e1870" text-anchor="middle" font-weight="normal" textLength="92.3" lengthAdjust="spacingAndGlyphs" stroke="#fff" stroke-width="0.53">27 1/2&quot;</text>
<text transform="translate(1419.00,181.00) rotate(-30)" x="0" y="7.15" font-family="Liberation Sans" font-size="19.86" fill="#0e1870" text-anchor="middle" font-weight="normal" textLength="31.6" lengthAdjust="spacingAndGlyphs" stroke="#fff" stroke-width="0.32">700</text>
<text transform="translate(1435.00,196.80) rotate(-30)" x="0" y="11.90" font-family="Liberation Sans" font-size="33.06" fill="#0e1870" text-anchor="middle" font-weight="normal" textLength="92.3" lengthAdjust="spacingAndGlyphs" stroke="#fff" stroke-width="0.53">23 5/8&quot;</text>
<text transform="translate(1446.00,219.00) rotate(-30)" x="0" y="7.15" font-family="Liberation Sans" font-size="19.86" fill="#0e1870" text-anchor="middle" font-weight="normal" textLength="31.6" lengthAdjust="spacingAndGlyphs" stroke="#fff" stroke-width="0.32">600</text>
<path d="M1267.1,423.1 L1270.7,423.1 L1271.1,427.0 L1266.7,427.0 Z" fill="#000"/>
<rect x="1265.90" y="427.30" width="6.00" height="7.50" rx="0" fill="none" stroke="#000" stroke-width="1.8"/>
<path d="M1260.3,442.6 L1277.3,432.7" fill="none" stroke="#000" stroke-width="3.6" />
<path d="M1260.3,446.8 L1277.3,438.6 L1277.3,460.2 L1260.3,468.4 Z" fill="#fff" stroke="#000" stroke-width="1.9" />
<ellipse cx="1260.00" cy="461.49" rx="2.6" ry="3.2" fill="#fff" stroke="#000" stroke-width="1.7"/>
<path d="M1268.0,464.7 L1268.0,468.2 L1274.0,465.3 L1274.0,461.8" fill="none" stroke="#000" stroke-width="1.7" />
<path d="M1313.7,395.1 L1317.3,395.1 L1317.7,399.0 L1313.3,399.0 Z" fill="#000"/>
<rect x="1312.50" y="399.30" width="6.00" height="7.50" rx="0" fill="none" stroke="#000" stroke-width="1.8"/>
<path d="M1303.5,417.5 L1328.6,402.9" fill="none" stroke="#000" stroke-width="3.6" />
<path d="M1303.5,421.7 L1328.6,409.7 L1328.6,430.1 L1303.5,442.1 Z" fill="#fff" stroke="#000" stroke-width="1.9" />
<ellipse cx="1303.50" cy="426.70" rx="2.6" ry="3.2" fill="#fff" stroke="#000" stroke-width="1.7"/>
<ellipse cx="1303.50" cy="436.20" rx="2.6" ry="3.2" fill="#fff" stroke="#000" stroke-width="1.7"/>
<ellipse cx="1328.60" cy="414.65" rx="2.6" ry="3.2" fill="#fff" stroke="#000" stroke-width="1.7"/>
<ellipse cx="1328.60" cy="423.65" rx="2.6" ry="3.2" fill="#fff" stroke="#000" stroke-width="1.7"/>
<path d="M1364.7,367.1 L1368.3,367.1 L1368.7,371.0 L1364.3,371.0 Z" fill="#000"/>
<rect x="1363.50" y="371.30" width="6.00" height="7.50" rx="0" fill="none" stroke="#000" stroke-width="1.8"/>
<path d="M1357.8,386.6 L1375.3,376.5" fill="none" stroke="#000" stroke-width="3.6" />
<path d="M1357.8,390.8 L1375.3,382.4 L1375.3,403.4 L1357.8,411.8 Z" fill="#fff" stroke="#000" stroke-width="1.9" />
<ellipse cx="1357.50" cy="405.08" rx="2.6" ry="3.2" fill="#fff" stroke="#000" stroke-width="1.7"/>
<path d="M1365.7,408.0 L1365.7,411.5 L1371.7,408.6 L1371.7,405.1" fill="none" stroke="#000" stroke-width="1.7" />
<line x1="1269.70" y1="467.20" x2="882.70" y2="690.70" stroke="#000" stroke-width="1.15"/>
<line x1="882.70" y1="690.70" x2="882.70" y2="863.40" stroke="#000" stroke-width="1.15"/>
<path d="M882.70,690.70 L880.30,703.70 L885.10,703.70 Z" fill="#000"/>
<path d="M882.70,863.40 L885.10,850.40 L880.30,850.40 Z" fill="#000"/>
<text transform="translate(865.00,776.70) rotate(-90)" x="0" y="12.10" font-family="Liberation Sans" font-size="33.61" fill="#0e1870" text-anchor="middle" font-weight="normal" textLength="91.1" lengthAdjust="spacingAndGlyphs" stroke="#fff" stroke-width="0.54">21 5/8&quot;</text>
<text transform="translate(895.00,777.50) rotate(-90)" x="0" y="7.10" font-family="Liberation Sans" font-size="19.72" fill="#0e1870" text-anchor="middle" font-weight="normal" textLength="31.0" lengthAdjust="spacingAndGlyphs" stroke="#fff" stroke-width="0.32">550</text>
<line x1="983.70" y1="807.50" x2="856.50" y2="880.10" stroke="#000" stroke-width="1.15"/>
<line x1="1244.50" y1="957.70" x2="1118.70" y2="1031.40" stroke="#000" stroke-width="1.15"/>
<line x1="856.50" y1="880.10" x2="1118.70" y2="1031.40" stroke="#000" stroke-width="1.15"/>
<path d="M856.50,880.10 L866.56,888.68 L868.96,884.52 Z" fill="#000"/>
<path d="M1118.70,1031.40 L1108.64,1022.82 L1106.24,1026.98 Z" fill="#000"/>
<text transform="translate(996.40,943.60) rotate(30)" x="0" y="11.90" font-family="Liberation Sans" font-size="33.06" fill="#0e1870" text-anchor="middle" font-weight="normal" textLength="88.3" lengthAdjust="spacingAndGlyphs" stroke="#fff" stroke-width="0.53">29 1/2&quot;</text>
<text transform="translate(981.00,964.20) rotate(30)" x="0" y="7.15" font-family="Liberation Sans" font-size="19.86" fill="#0e1870" text-anchor="middle" font-weight="normal" textLength="31.6" lengthAdjust="spacingAndGlyphs" stroke="#fff" stroke-width="0.32">750</text>
<line x1="1158.20" y1="858.50" x2="1058.00" y2="914.80" stroke="#000" stroke-width="1.15"/>
<line x1="929.10" y1="839.60" x2="1058.00" y2="914.80" stroke="#000" stroke-width="1.15"/>
<path d="M929.10,839.60 L939.12,848.22 L941.54,844.08 Z" fill="#000"/>
<path d="M1058.00,914.80 L1047.98,906.18 L1045.56,910.32 Z" fill="#000"/>
<text transform="translate(1003.50,862.40) rotate(30)" x="0" y="11.90" font-family="Liberation Sans" font-size="33.06" fill="#0e1870" text-anchor="middle" font-weight="normal" textLength="88.3" lengthAdjust="spacingAndGlyphs" stroke="#fff" stroke-width="0.53">14 3/4&quot;</text>
<text transform="translate(988.70,886.20) rotate(30)" x="0" y="7.15" font-family="Liberation Sans" font-size="19.86" fill="#0e1870" text-anchor="middle" font-weight="normal" textLength="31.6" lengthAdjust="spacingAndGlyphs" stroke="#fff" stroke-width="0.32">375</text>
<line x1="1037.40" y1="949.40" x2="1086.20" y2="949.40" stroke="#000" stroke-width="1.15"/>
<line x1="1086.20" y1="949.40" x2="1180.00" y2="829.80" stroke="#000" stroke-width="1.15"/>
<path d="M1148.00,871.00 L1139.78,878.52 L1142.60,880.75 Z" fill="#000"/>
<path d="M1168.00,845.50 L1176.11,837.85 L1173.25,835.67 Z" fill="#000"/>
<text transform="translate(1053.50,937.00) rotate(0)" x="0" y="9.90" font-family="Liberation Sans" font-size="27.50" fill="#0e1870" text-anchor="middle" font-weight="normal" textLength="23.1" lengthAdjust="spacingAndGlyphs" stroke="#fff" stroke-width="0.44">2&quot;</text>
<circle cx="1077.40" cy="937.40" r="6.60" fill="none" stroke="#000" stroke-width="1.3"/>
<line x1="1072.20" y1="926.80" x2="1082.30" y2="946.60" stroke="#000" stroke-width="1.2"/>
<text transform="translate(1051.20,959.90) rotate(0)" x="0" y="6.70" font-family="Liberation Sans" font-size="18.61" fill="#0e1870" text-anchor="middle" font-weight="normal" textLength="15.9" lengthAdjust="spacingAndGlyphs" stroke="#fff" stroke-width="0.30">51</text>
<line x1="1158.20" y1="858.50" x2="1330.90" y2="957.80" stroke="#000" stroke-width="1.15"/>
<line x1="1796.00" y1="638.30" x2="1890.00" y2="692.00" stroke="#000" stroke-width="1.15"/>
<line x1="1330.90" y1="957.80" x2="1834.60" y2="663.40" stroke="#000" stroke-width="1.15"/>
<path d="M1330.90,957.80 L1343.33,953.31 L1340.91,949.17 Z" fill="#000"/>
<path d="M1834.60,663.40 L1822.17,667.89 L1824.59,672.03 Z" fill="#000"/>
<text transform="translate(1576.40,796.40) rotate(-30)" x="0" y="11.50" font-family="Liberation Sans" font-size="31.94" fill="#0e1870" text-anchor="middle" font-weight="normal" textLength="36.7" lengthAdjust="spacingAndGlyphs" stroke="#fff" stroke-width="0.51">48&quot;</text>
<text transform="translate(1590.20,817.10) rotate(-30)" x="0" y="6.40" font-family="Liberation Sans" font-size="17.78" fill="#0e1870" text-anchor="middle" font-weight="normal" textLength="36.3" lengthAdjust="spacingAndGlyphs" stroke="#fff" stroke-width="0.28">1220</text>
<line x1="1244.50" y1="957.70" x2="1340.60" y2="1012.10" stroke="#000" stroke-width="1.15"/>
<line x1="1340.60" y1="1012.10" x2="1888.20" y2="692.00" stroke="#000" stroke-width="1.15"/>
<path d="M1340.60,1012.10 L1353.03,1007.61 L1350.61,1003.47 Z" fill="#000"/>
<path d="M1888.20,692.00 L1875.77,696.49 L1878.19,700.63 Z" fill="#000"/>
<text transform="translate(1597.60,841.60) rotate(-30)" x="0" y="11.50" font-family="Liberation Sans" font-size="31.94" fill="#0e1870" text-anchor="middle" font-weight="normal" textLength="36.7" lengthAdjust="spacingAndGlyphs" stroke="#fff" stroke-width="0.51">59&quot;</text>
<text transform="translate(1613.60,864.20) rotate(-30)" x="0" y="6.40" font-family="Liberation Sans" font-size="17.78" fill="#0e1870" text-anchor="middle" font-weight="normal" textLength="36.3" lengthAdjust="spacingAndGlyphs" stroke="#fff" stroke-width="0.28">1500</text>
<line x1="1796.00" y1="341.60" x2="1890.00" y2="396.40" stroke="#000" stroke-width="1.15"/>
<line x1="1890.00" y1="396.40" x2="1890.00" y2="690.70" stroke="#000" stroke-width="1.15"/>
<path d="M1890.00,396.40 L1887.60,409.40 L1892.40,409.40 Z" fill="#000"/>
<path d="M1890.00,690.70 L1892.40,677.70 L1887.60,677.70 Z" fill="#000"/>
<text transform="translate(1868.30,540.00) rotate(-90)" x="0" y="12.05" font-family="Liberation Sans" font-size="33.47" fill="#0e1870" text-anchor="middle" font-weight="normal" textLength="91.0" lengthAdjust="spacingAndGlyphs" stroke="#fff" stroke-width="0.54">33 7/8&quot;</text>
<text transform="translate(1900.00,540.00) rotate(-90)" x="0" y="7.10" font-family="Liberation Sans" font-size="19.72" fill="#0e1870" text-anchor="middle" font-weight="normal" textLength="32.6" lengthAdjust="spacingAndGlyphs" stroke="#fff" stroke-width="0.32">860</text>
<text transform="translate(1254.50,1081.30) scale(1,1.0)" x="0" y="0" font-family="Liberation Serif" font-size="34.0" fill="#000" text-anchor="middle" textLength="17.00" lengthAdjust="spacingAndGlyphs">A</text>
<path d="M1266.80,1073.10 Q1267.60,1072.10 1268.80,1073.30 L1275.20,1079.50 Q1276.00,1082.10 1273.80,1081.90 Z" fill="#000"/>
<text transform="translate(1304.60,1081.30) scale(1,1.0)" x="0" y="0" font-family="Liberation Serif" font-size="34.0" fill="#000" text-anchor="middle" textLength="14.60" lengthAdjust="spacingAndGlyphs">C</text>
<text transform="translate(1321.47,1081.30) scale(1,1.1)" x="0" y="0" font-family="Liberation Serif" font-size="34.0" fill="#000" text-anchor="middle" textLength="14.60" lengthAdjust="spacingAndGlyphs">o</text>
<text transform="translate(1338.34,1081.30) scale(1,1.1)" x="0" y="0" font-family="Liberation Serif" font-size="34.0" fill="#000" text-anchor="middle" textLength="14.60" lengthAdjust="spacingAndGlyphs">n</text>
<text transform="translate(1355.21,1081.30) scale(1,1.0)" x="0" y="0" font-family="Liberation Serif" font-size="34.0" fill="#000" text-anchor="middle" textLength="9.45" lengthAdjust="spacingAndGlyphs">t</text>
<text transform="translate(1372.08,1081.30) scale(1,1.1)" x="0" y="0" font-family="Liberation Serif" font-size="34.0" fill="#000" text-anchor="middle" textLength="11.32" lengthAdjust="spacingAndGlyphs">r</text>
<text transform="translate(1388.95,1081.30) scale(1,1.1)" x="0" y="0" font-family="Liberation Serif" font-size="34.0" fill="#000" text-anchor="middle" textLength="14.60" lengthAdjust="spacingAndGlyphs">o</text>
<text transform="translate(1405.82,1081.30) scale(1,1.0)" x="0" y="0" font-family="Liberation Serif" font-size="34.0" fill="#000" text-anchor="middle" textLength="9.45" lengthAdjust="spacingAndGlyphs">l</text>
<text transform="translate(1439.56,1081.30) scale(1,1.1)" x="0" y="0" font-family="Liberation Serif" font-size="34.0" fill="#000" text-anchor="middle" textLength="14.60" lengthAdjust="spacingAndGlyphs">p</text>
<text transform="translate(1456.43,1081.30) scale(1,1.1)" x="0" y="0" font-family="Liberation Serif" font-size="34.0" fill="#000" text-anchor="middle" textLength="14.60" lengthAdjust="spacingAndGlyphs">a</text>
<text transform="translate(1473.30,1081.30) scale(1,1.1)" x="0" y="0" font-family="Liberation Serif" font-size="34.0" fill="#000" text-anchor="middle" textLength="14.60" lengthAdjust="spacingAndGlyphs">n</text>
<text transform="translate(1490.17,1081.30) scale(1,1.1)" x="0" y="0" font-family="Liberation Serif" font-size="34.0" fill="#000" text-anchor="middle" textLength="14.60" lengthAdjust="spacingAndGlyphs">e</text>
<text transform="translate(1507.04,1081.30) scale(1,1.0)" x="0" y="0" font-family="Liberation Serif" font-size="34.0" fill="#000" text-anchor="middle" textLength="9.45" lengthAdjust="spacingAndGlyphs">l</text>
<text x="1601.50" y="1081.30" font-family="Liberation Sans" font-size="30.5" fill="#7a7a7a" text-anchor="middle" textLength="15.5" lengthAdjust="spacingAndGlyphs" stroke="#fff" stroke-width="0.9">B</text>
<path d="M1613.80,1073.10 Q1614.60,1072.10 1615.80,1073.30 L1622.20,1079.50 Q1623.00,1082.10 1620.80,1081.90 Z" fill="#000"/>
<text transform="translate(1656.00,1081.30) scale(1,1.0)" x="0" y="0" font-family="Liberation Serif" font-size="34.0" fill="#000" text-anchor="middle" textLength="14.60" lengthAdjust="spacingAndGlyphs">D</text>
<text transform="translate(1672.87,1081.30) scale(1,1.1)" x="0" y="0" font-family="Liberation Serif" font-size="34.0" fill="#000" text-anchor="middle" textLength="11.32" lengthAdjust="spacingAndGlyphs">r</text>
<text transform="translate(1689.74,1081.30) scale(1,1.1)" x="0" y="0" font-family="Liberation Serif" font-size="34.0" fill="#000" text-anchor="middle" textLength="14.60" lengthAdjust="spacingAndGlyphs">a</text>
<text transform="translate(1706.61,1081.30) scale(1,1.0)" x="0" y="0" font-family="Liberation Serif" font-size="34.0" fill="#000" text-anchor="middle" textLength="9.45" lengthAdjust="spacingAndGlyphs">i</text>
<text transform="translate(1723.48,1081.30) scale(1,1.1)" x="0" y="0" font-family="Liberation Serif" font-size="34.0" fill="#000" text-anchor="middle" textLength="14.60" lengthAdjust="spacingAndGlyphs">n</text>
<text x="1814.50" y="1081.30" font-family="Liberation Sans" font-size="30.5" fill="#7a7a7a" text-anchor="middle" textLength="15.5" lengthAdjust="spacingAndGlyphs" stroke="#fff" stroke-width="0.9">C</text>
<path d="M1826.80,1073.10 Q1827.60,1072.10 1828.80,1073.30 L1835.20,1079.50 Q1836.00,1082.10 1833.80,1081.90 Z" fill="#000"/>
<text transform="translate(1870.50,1081.30) scale(1,1.0)" x="0" y="0" font-family="Liberation Serif" font-size="34.0" fill="#000" text-anchor="middle" textLength="13.23" lengthAdjust="spacingAndGlyphs">J</text>
<text transform="translate(1887.50,1081.30) scale(1,1.1)" x="0" y="0" font-family="Liberation Serif" font-size="34.0" fill="#000" text-anchor="middle" textLength="14.60" lengthAdjust="spacingAndGlyphs">e</text>
<text transform="translate(1904.50,1081.30) scale(1,1.0)" x="0" y="0" font-family="Liberation Serif" font-size="34.0" fill="#000" text-anchor="middle" textLength="9.45" lengthAdjust="spacingAndGlyphs">t</text>
<text x="1258.50" y="1121.60" font-family="Liberation Sans" font-size="30.5" fill="#7a7a7a" text-anchor="middle" textLength="15.5" lengthAdjust="spacingAndGlyphs" stroke="#fff" stroke-width="0.9">D</text>
<path d="M1271.00,1113.40 Q1271.80,1112.40 1273.00,1113.60 L1279.40,1119.80 Q1280.20,1122.40 1278.00,1122.20 Z" fill="#000"/>
<text transform="translate(1312.10,1121.60) scale(1,1.0)" x="0" y="0" font-family="Liberation Serif" font-size="34.0" fill="#000" text-anchor="middle" textLength="14.60" lengthAdjust="spacingAndGlyphs">F</text>
<text transform="translate(1329.20,1121.60) scale(1,1.1)" x="0" y="0" font-family="Liberation Serif" font-size="34.0" fill="#000" text-anchor="middle" textLength="14.60" lengthAdjust="spacingAndGlyphs">a</text>
<text transform="translate(1346.30,1121.60) scale(1,1.1)" x="0" y="0" font-family="Liberation Serif" font-size="34.0" fill="#000" text-anchor="middle" textLength="14.60" lengthAdjust="spacingAndGlyphs">u</text>
<text transform="translate(1363.40,1121.60) scale(1,1.1)" x="0" y="0" font-family="Liberation Serif" font-size="34.0" fill="#000" text-anchor="middle" textLength="14.60" lengthAdjust="spacingAndGlyphs">c</text>
<text transform="translate(1380.50,1121.60) scale(1,1.1)" x="0" y="0" font-family="Liberation Serif" font-size="34.0" fill="#000" text-anchor="middle" textLength="14.60" lengthAdjust="spacingAndGlyphs">e</text>
<text transform="translate(1397.60,1121.60) scale(1,1.0)" x="0" y="0" font-family="Liberation Serif" font-size="34.0" fill="#000" text-anchor="middle" textLength="9.45" lengthAdjust="spacingAndGlyphs">t</text>
<text x="1608.50" y="1121.60" font-family="Liberation Sans" font-size="30.5" fill="#7a7a7a" text-anchor="middle" textLength="15.5" lengthAdjust="spacingAndGlyphs" stroke="#fff" stroke-width="0.9">E</text>
<path d="M1621.00,1113.40 Q1621.80,1112.40 1623.00,1113.60 L1629.40,1119.80 Q1630.20,1122.40 1628.00,1122.20 Z" fill="#000"/>
<text transform="translate(1666.00,1121.60) scale(1,1.0)" x="0" y="0" font-family="Liberation Serif" font-size="34.0" fill="#000" text-anchor="middle" textLength="14.60" lengthAdjust="spacingAndGlyphs">H</text>
<text transform="translate(1682.80,1121.60) scale(1,1.1)" x="0" y="0" font-family="Liberation Serif" font-size="34.0" fill="#000" text-anchor="middle" textLength="14.60" lengthAdjust="spacingAndGlyphs">a</text>
<text transform="translate(1699.60,1121.60) scale(1,1.1)" x="0" y="0" font-family="Liberation Serif" font-size="34.0" fill="#000" text-anchor="middle" textLength="14.60" lengthAdjust="spacingAndGlyphs">n</text>
<text transform="translate(1716.40,1121.60) scale(1,1.0)" x="0" y="0" font-family="Liberation Serif" font-size="34.0" fill="#000" text-anchor="middle" textLength="14.60" lengthAdjust="spacingAndGlyphs">d</text>
<text transform="translate(1750.00,1121.60) scale(1,1.1)" x="0" y="0" font-family="Liberation Serif" font-size="34.0" fill="#000" text-anchor="middle" textLength="13.23" lengthAdjust="spacingAndGlyphs">s</text>
<text transform="translate(1766.80,1121.60) scale(1,1.0)" x="0" y="0" font-family="Liberation Serif" font-size="34.0" fill="#000" text-anchor="middle" textLength="14.60" lengthAdjust="spacingAndGlyphs">h</text>
<text transform="translate(1783.60,1121.60) scale(1,1.1)" x="0" y="0" font-family="Liberation Serif" font-size="34.0" fill="#000" text-anchor="middle" textLength="14.60" lengthAdjust="spacingAndGlyphs">o</text>
<text transform="translate(1800.40,1121.60) scale(1,1.1)" x="0" y="0" font-family="Liberation Serif" font-size="34.0" fill="#000" text-anchor="middle" textLength="14.60" lengthAdjust="spacingAndGlyphs">w</text>
<text transform="translate(1817.20,1121.60) scale(1,1.1)" x="0" y="0" font-family="Liberation Serif" font-size="34.0" fill="#000" text-anchor="middle" textLength="14.60" lengthAdjust="spacingAndGlyphs">e</text>
<text transform="translate(1834.00,1121.60) scale(1,1.1)" x="0" y="0" font-family="Liberation Serif" font-size="34.0" fill="#000" text-anchor="middle" textLength="11.32" lengthAdjust="spacingAndGlyphs">r</text>
</svg>
</body></html>
